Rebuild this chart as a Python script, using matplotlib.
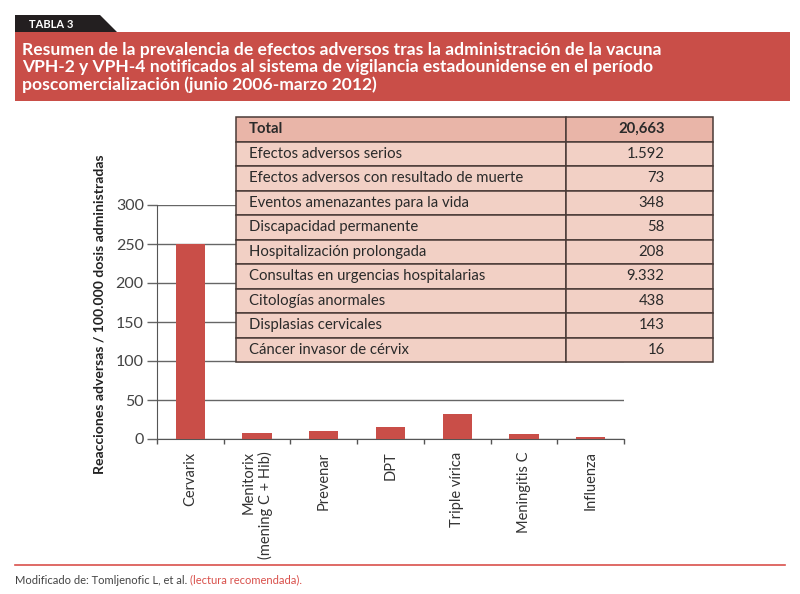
import matplotlib.pyplot as plt
from matplotlib.patches import Rectangle, Polygon
import numpy as np

plt.rcParams['font.family'] = ['Lato', 'DejaVu Sans']

# datos del grafico
vacunas = ['Cervarix', 'Menitorix\n(mening C + Hib)', 'Prevenar', 'DPT',
           'Triple vírica', 'Meningitis C', 'Influenza']
reacciones = [250, 8, 10, 15, 32, 6, 2.5]
yticks = [0, 50, 100, 150, 200, 250, 300]

# datos de la tabla
efectos = ['Total', 'Efectos adversos serios', 'Efectos adversos con resultado de muerte',
           'Eventos amenazantes para la vida', 'Discapacidad permanente',
           'Hospitalización prolongada', 'Consultas en urgencias hospitalarias',
           'Citologías anormales', 'Displasias cervicales', 'Cáncer invasor de cérvix']
casos = ['20,663', '1.592', '73', '348', '58', '208', '9.332', '438', '143', '16']

titulo = ('Resumen de la prevalencia de efectos adversos tras la administración de la vacuna\n'
          'VPH-2 y VPH-4 notificados al sistema de vigilancia estadounidense en el período\n'
          'poscomercialización (junio 2006-marzo 2012)')

ROJO = '#c94e48'
W, H = 800, 594

def fx(px):
    return px / W

def fy(py):
    return 1 - py / H

fig = plt.figure(figsize=(8, 5.94), dpi=100)

# cabecera
fig.patches.append(Polygon([(fx(15), fy(15)), (fx(100), fy(15)), (fx(117), fy(32)), (fx(15), fy(32))],
                           closed=True, transform=fig.transFigure, facecolor='#231f20', edgecolor='none'))
fig.text(fx(29), fy(24), 'TABLA 3', color='white', fontsize=8, fontweight='bold', va='center', ha='left')
fig.patches.append(Rectangle((fx(15), fy(101)), fx(790) - fx(15), fy(32) - fy(101),
                             transform=fig.transFigure, facecolor=ROJO, edgecolor='none'))
fig.text(fx(22), fy(42), titulo, color='white', fontsize=12.6, fontweight='bold',
         va='top', ha='left', linespacing=1.1)

# grafico de barras
ax = fig.add_axes([fx(157), fy(439), fx(624) - fx(157), fy(205) - fy(439)])
x = np.arange(len(vacunas))
ax.bar(x, reacciones, width=0.44, color=ROJO, zorder=3)
ax.set_xlim(-0.5, len(vacunas) - 0.5)
ax.set_ylim(0, 300)
ax.set_yticks(yticks)
ax.yaxis.grid(True, color='#666666', linewidth=1)
ax.set_axisbelow(True)
for s in ['top', 'right']:
    ax.spines[s].set_visible(False)
ax.spines['left'].set_color('#555555')
ax.spines['bottom'].set_color('#555555')
ax.tick_params(axis='y', length=7.5, width=1, color='#666666', pad=2, labelsize=11.5, labelcolor='#444444')
ax.set_xticks(np.arange(len(vacunas) + 1) - 0.5)
ax.set_xticklabels([])
ax.tick_params(axis='x', which='major', length=3.5, width=1, color='#555555')
ax.set_xticks(x, minor=True)
ax.set_xticklabels(vacunas, minor=True, rotation=90, fontsize=10.5, color='#333333',
                   va='top', ha='center', multialignment='right')
ax.tick_params(axis='x', which='minor', length=0, pad=9)

fig.text(fx(100), fy(314), 'Reacciones adversas / 100.000 dosis administradas', rotation=90,
         fontsize=10.1, fontweight='bold', color='#222222', ha='center', va='center')

# tabla
tax = fig.add_axes([fx(236), fy(362), fx(713) - fx(236), fy(117) - fy(362)], zorder=5)
tax.axis('off')
filas = [[e, c] for e, c in zip(efectos, casos)]
tabla = tax.table(cellText=filas, bbox=[0, 0, 1, 1], colWidths=[0.692, 0.308])
tabla.auto_set_font_size(False)
for (r, c), cell in tabla.get_celld().items():
    cell.set_edgecolor('#4a3b37')
    cell.set_linewidth(1.1)
    cell.set_facecolor('#e9b5a8' if r == 0 else '#f2d0c5')
    cell.get_text().set_fontsize(10.7)
    cell.get_text().set_color('#2a2a2a')
    if c == 0:
        cell._loc = 'left'
        cell.PAD = 0.04
        cell.get_text().set_ha('left')
    else:
        cell._loc = 'right'
        cell.PAD = 0.33
        cell.get_text().set_ha('right')
    if r == 0:
        cell.get_text().set_fontweight('bold')

# pie
fig.add_artist(plt.Line2D([fx(15), fx(785)], [fy(565), fy(565)], color='#d9504b', linewidth=1.2))
t1 = fig.text(fx(15), fy(580), 'Modificado de: Tomljenofic L, et al. ', fontsize=8,
              color='#444444', va='center', ha='left')
ax.annotate('(lectura recomendada).', xy=(1, 0.5), xycoords=t1, fontsize=8, color='#d9504b',
            va='center', ha='left', annotation_clip=False)

fig.savefig('out.png', dpi=100)
